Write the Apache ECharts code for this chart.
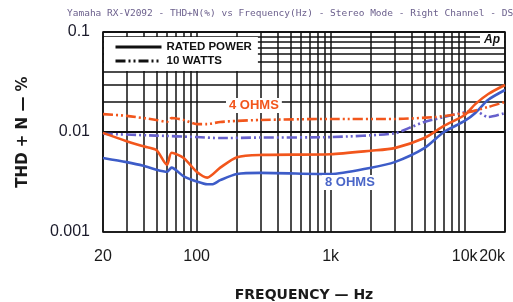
<!DOCTYPE html>
<html>
<head>
<meta charset="utf-8">
<script src="https://cdn.jsdelivr.net/npm/echarts@6/dist/echarts.min.js"></script>
<style>
  html, body { margin: 0; padding: 0; background: #fff; }
  #chart { width: 513px; height: 302px; }
</style>
</head>
<body>
<div id="chart"></div>
<script>
// [frequency Hz, THD+N %]
var ohm4Rated = [[20, 0.0098], [30, 0.0081], [40, 0.0072], [50, 0.0066], [60, 0.0047], [65, 0.0062],
  [80, 0.0055], [100, 0.004], [120, 0.0035], [150, 0.0044], [200, 0.0056], [300, 0.0059],
  [1000, 0.006], [2000, 0.0065], [3000, 0.0069], [5000, 0.0087], [7000, 0.0115],
  [10000, 0.0148], [12000, 0.019], [15000, 0.024], [20000, 0.0295]]
var ohm4Watts10 = [[20, 0.0151], [30, 0.0145], [50, 0.0132], [60, 0.0126], [65, 0.0138], [80, 0.0132],
  [100, 0.012], [120, 0.012], [150, 0.0126], [200, 0.0129], [300, 0.0132], [1000, 0.0135],
  [3000, 0.0135], [6000, 0.0141], [8000, 0.0148], [10000, 0.0155], [15000, 0.0178], [20000, 0.02]]
var ohm8Rated = [[20, 0.0055], [30, 0.005], [40, 0.0046], [50, 0.0042], [60, 0.004], [65, 0.0044],
  [80, 0.0036], [100, 0.0032], [120, 0.003], [130, 0.003], [150, 0.0033], [200, 0.0038],
  [300, 0.0039], [1000, 0.0038], [2000, 0.0044], [3000, 0.005], [5000, 0.0069], [7000, 0.01],
  [10000, 0.0129], [12000, 0.0155], [15000, 0.021], [20000, 0.0263]]
var ohm8Watts10 = [[20, 0.0096], [50, 0.0092], [100, 0.0089], [150, 0.0087], [300, 0.0088],
  [1000, 0.0089], [3000, 0.0097], [4000, 0.0112], [5000, 0.0126], [7000, 0.0141],
  [10000, 0.0158], [12000, 0.0162], [15000, 0.0141], [20000, 0.0155]]

// minor grid positions
var xMinorGrid = [30, 40, 50, 60, 70, 80, 90, 200, 300, 400, 500, 600, 700, 800, 900,
  2000, 3000, 4000, 5000, 6000, 7000, 8000, 9000]
var yMinorGrid = [0.002, 0.003, 0.004, 0.005, 0.006, 0.007, 0.008, 0.009,
  0.02, 0.03, 0.04, 0.05, 0.06, 0.07, 0.08, 0.09]

var ORANGE = '#f2561c'
var BLUE = '#3d5cc8'
var PURPLE = '#6660cc'
var INK = '#111'
var DASHDOT = [10, 3, 2, 3, 2, 3]

var gridLines = []
xMinorGrid.forEach(function (v) { gridLines.push({ xAxis: v }) })
yMinorGrid.forEach(function (v) { gridLines.push({ yAxis: v }) })

function curve(name, data, color, dashed) {
  return {
    name: name,
    type: 'line',
    data: data,
    symbol: 'none',
    smooth: 0.25,
    z: 3,
    lineStyle: { color: color, width: 2.6, type: dashed ? DASHDOT : 'solid' }
  }
}

var chart = echarts.init(document.getElementById('chart'))

chart.setOption({
  animation: false,
  backgroundColor: '#fff',
  grid: {
    left: 103, right: 8, top: 32, bottom: 70,
    outerBoundsMode: 'none',
    show: true, borderColor: INK, borderWidth: 1.6
  },
  legend: {
    data: ['RATED POWER', '10 WATTS'],
    orient: 'vertical',
    left: 104,
    top: 37,
    z: 6,
    padding: [4, 6, 4, 10],
    itemWidth: 46,
    itemHeight: 12,
    itemGap: 2,
    backgroundColor: '#fff',
    selectedMode: false,
    itemStyle: { opacity: 0 },
    lineStyle: { width: 3 },
    textStyle: { fontFamily: 'Liberation Sans', fontWeight: 'bold', fontSize: 11.5, color: INK }
  },
  xAxis: {
    type: 'log',
    logBase: 10,
    min: 20,
    max: 20000,
    name: 'FREQUENCY — Hz',
    nameLocation: 'middle',
    nameGap: 56,
    nameTextStyle: { fontFamily: 'DejaVu Sans', fontWeight: 'bold', fontSize: 14, color: '#1a1a1a' },
    axisLine: { show: false },
    axisTick: { show: false },
    splitLine: { show: true, lineStyle: { color: INK, width: 1.5 } },
    axisLabel: {
      margin: 17,
      fontFamily: 'Liberation Sans',
      fontSize: 16,
      color: '#1a1a1a',
      alignMaxLabel: 'right',
      formatter: function (v) {
        return v >= 1000 ? Math.round(v / 1000) + 'k' : String(Math.round(v))
      }
    }
  },
  yAxis: {
    type: 'log',
    logBase: 10,
    min: 0.001,
    max: 0.1,
    name: 'THD + N — %',
    nameLocation: 'middle',
    nameGap: 72,
    nameTextStyle: { fontFamily: 'DejaVu Sans', fontWeight: 'bold', fontSize: 15, color: '#1a1a1a' },
    axisLine: { show: false },
    axisTick: { show: false },
    splitLine: { show: true, lineStyle: { color: INK, width: 1.5 } },
    axisLabel: {
      margin: 13,
      fontFamily: 'Liberation Sans',
      fontSize: 16,
      color: '#1a1a2a',
      formatter: function (v) { return String(+v.toPrecision(3)) }
    }
  },
  graphic: [
    {
      type: 'text', left: 67, top: 9,
      style: {
        text: 'Yamaha RX-V2092 - THD+N(%) vs Frequency(Hz) - Stereo Mode - Right Channel - DSP Off',
        fontFamily: 'DejaVu Sans Mono', fontSize: 9.5, fill: '#6b5f8c'
      }
    },
    {
      type: 'text', right: 9, top: 33, z: 10,
      style: {
        text: 'Ap', fontFamily: 'Liberation Sans', fontWeight: 'bold', fontStyle: 'italic',
        fontSize: 12, fill: INK, backgroundColor: '#fff', padding: [1, 4]
      }
    },
    {
      type: 'text', left: 226, top: 98, z: 10,
      style: {
        text: '4 OHMS', fontFamily: 'Liberation Sans', fontWeight: 'bold', fontSize: 13,
        fill: ORANGE, backgroundColor: '#fff', padding: [1, 3]
      }
    },
    {
      type: 'text', left: 322, top: 175, z: 10,
      style: {
        text: '8 OHMS', fontFamily: 'Liberation Sans', fontWeight: 'bold', fontSize: 13,
        fill: '#4a66c8', backgroundColor: '#fff', padding: [1, 3]
      }
    }
  ],
  series: [
    {
      name: 'grid',
      type: 'line',
      data: [],
      silent: true,
      z: 1,
      markLine: {
        silent: true,
        z: 1,
        symbol: 'none',
        animation: false,
        label: { show: false },
        lineStyle: { color: INK, width: 1.5, type: 'solid' },
        data: gridLines
      }
    },
    { name: 'RATED POWER', type: 'line', data: [], symbol: 'none', color: INK, lineStyle: { color: INK, width: 3, type: 'solid' } },
    { name: '10 WATTS', type: 'line', data: [], symbol: 'none', color: INK, lineStyle: { color: INK, width: 3, type: DASHDOT } },
    curve('8 OHMS 10 W', ohm8Watts10, PURPLE, true),
    curve('8 OHMS RATED', ohm8Rated, BLUE, false),
    curve('4 OHMS 10 W', ohm4Watts10, ORANGE, true),
    curve('4 OHMS RATED', ohm4Rated, ORANGE, false)
  ]
})
</script>
</body>
</html>
